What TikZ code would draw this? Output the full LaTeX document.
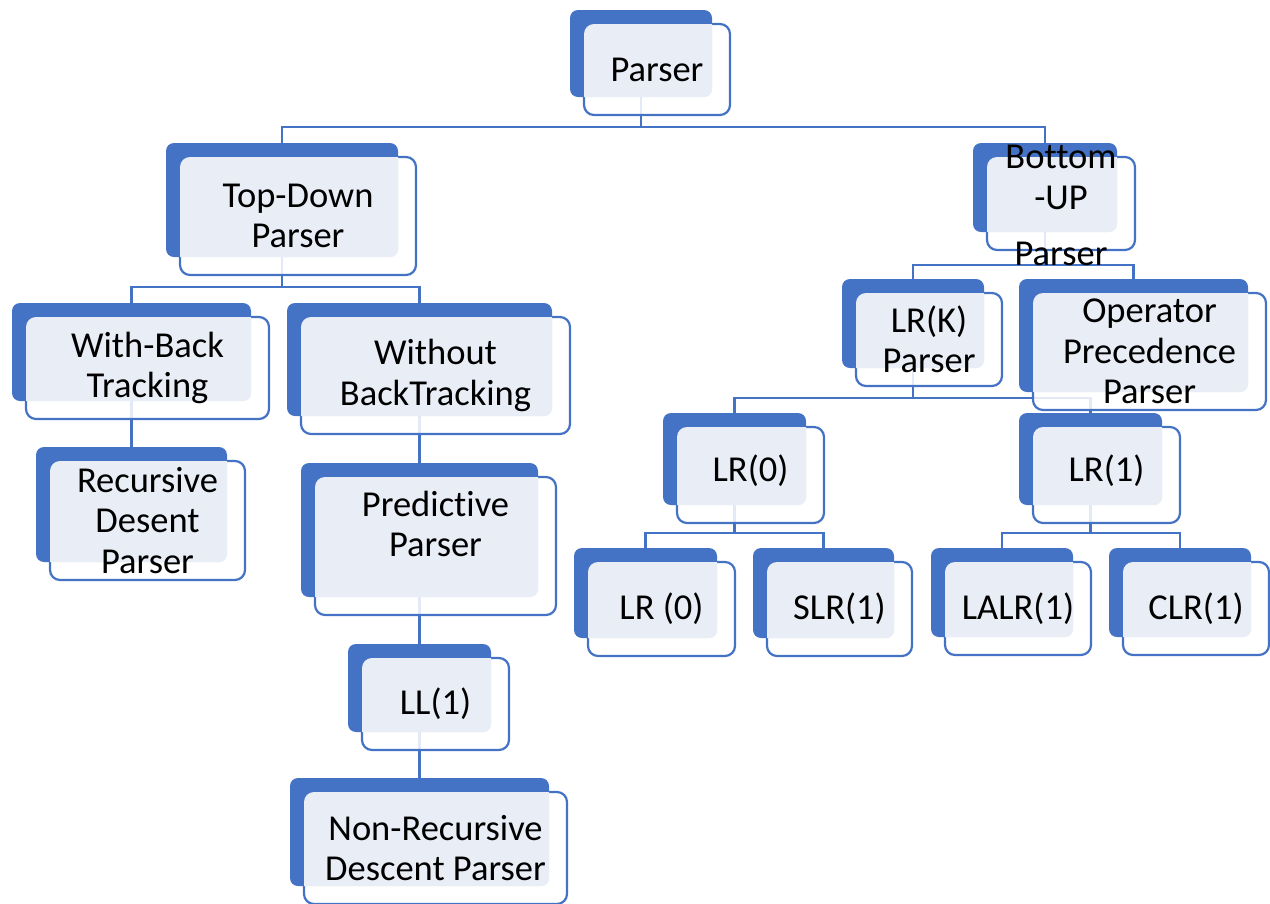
\documentclass[tikz,border=0pt]{standalone}
\usepackage{fontspec}
\setmainfont{Carlito}[Ligatures=NoCommon]
\definecolor{accent}{HTML}{4472C4}
\definecolor{tint}{HTML}{E9EDF6}
\pgfdeclarelayer{wires}
\pgfsetlayers{wires,main}
\tikzset{
  backbox/.style={rectangle, rounded corners=8pt, fill=accent, inner sep=0pt, outer sep=0pt},
  frontbox/.style={rectangle, rounded corners=10pt, draw=accent, line width=2.2pt,
    fill=white, fill opacity=0.85, inner sep=0pt, outer sep=0pt},
  boxtext/.style={align=center, font=\fontsize{36.5}{40.5}\selectfont, text=black, inner sep=0pt},
  wire/.style={draw=accent, line width=2.4pt},
}
% \pbox[text shift]{name}{x1}{y1}{x2}{y2}{text}: accent card with offset framed card
\newcommand\pbox[7][0]{%
  \pgfmathsetmacro\bw{#5-#3}%
  \pgfmathsetmacro\bh{#6-#4}%
  \pgfmathsetmacro\fw{#5-#3+4}%
  \pgfmathsetmacro\fh{#6-#4+4}%
  \pgfmathsetmacro\bx{(#3+#5)/2}%
  \pgfmathsetmacro\by{(#4+#6)/2}%
  \node[backbox, minimum width=\bw pt, minimum height=\bh pt] (#2) at (\bx,\by) {};
  \node[frontbox, minimum width=\fw pt, minimum height=\fh pt] (#2-f) at (\bx+16,\by+16) {};
  \begin{scope}
    \clip[rounded corners=8pt] (#2.south west) rectangle (#2.north east);
    \fill[tint, rounded corners=10pt] (#2-f.south west) rectangle (#2-f.north east);
  \end{scope}
  \node[boxtext] (#2-t) at (\bx+16,\by+16+#1) {#7};
}
\begin{document}
\begin{tikzpicture}[x=1pt,y=-1pt]
\useasboundingbox (0,0) rectangle (1270,903);

\pbox{parser}{570}{10}{712}{97}{Parser}
\pbox{topdown}{166}{143}{398}{257}{Top-Down\\Parser}
\pbox[2]{bottomup}{973}{143}{1117}{232}{Bottom\\-UP\\[16pt]Parser}
\pbox{withbt}{12}{303}{251}{401}{With-Back\\Tracking}
\pbox{withoutbt}{287}{303}{552}{416}{Without\\BackTracking}
\pbox{recursive}{36}{447}{227}{562}{Recursive\\Desent\\Parser}
\pbox[-22]{predictive}{301}{463}{538}{597}{Predictive\\Parser}
\pbox{ll1}{348}{644}{491}{732}{LL(1)}
\pbox{nonrec}{290}{778}{549}{886}{Non-Recursive\\Descent Parser}
\pbox{lrk}{842}{279}{984}{368}{LR(K)\\Parser}
\pbox{opp}{1019}{279}{1248}{392}{Operator\\Precedence\\Parser}
\pbox[-4]{lr0}{663}{413}{806}{505}{LR(0)}
\pbox[-4]{lr1}{1019}{413}{1162}{505}{LR(1)}
\pbox{lr0b}{574}{548}{717}{638}{LR (0)}
\pbox{slr1}{753}{548}{894}{638}{SLR(1)}
\pbox{lalr1}{931}{548}{1073}{637}{LALR(1)}
\pbox{clr1}{1109}{548}{1251}{637}{CLR(1)}

% connectors run beneath the cards
\begin{pgfonlayer}{wires}
\draw[wire] (parser.south) -- (parser.south |- 0,127) -| (topdown.north);
\draw[wire] (parser.south |- 0,127) -| (bottomup.north);
\draw[wire] (topdown.south) -- (topdown.south |- 0,287) -| (withbt.north);
\draw[wire] (topdown.south |- 0,287) -| (withoutbt.north);
\draw[wire] (withbt.south) -- (recursive.north);
\draw[wire] (withoutbt.south) -- (predictive.north);
\draw[wire] (predictive.south) -- (ll1.north);
\draw[wire] (ll1.south) -- (nonrec.north);
\draw[wire] (bottomup.south) -- (bottomup.south |- 0,265) -| (lrk.north);
\draw[wire] (bottomup.south |- 0,265) -| (opp.north);
\draw[wire] (lrk.south) -- (lrk.south |- 0,398) -| (lr0.north);
\draw[wire] (lrk.south |- 0,398) -| (lr1.north);
\draw[wire] (lr0.south) -- (lr0.south |- 0,533) -| (lr0b.north);
\draw[wire] (lr0.south |- 0,533) -| (slr1.north);
\draw[wire] (lr1.south) -- (lr1.south |- 0,533) -| (lalr1.north);
\draw[wire] (lr1.south |- 0,533) -| (clr1.north);
\end{pgfonlayer}
\end{tikzpicture}
\end{document}
